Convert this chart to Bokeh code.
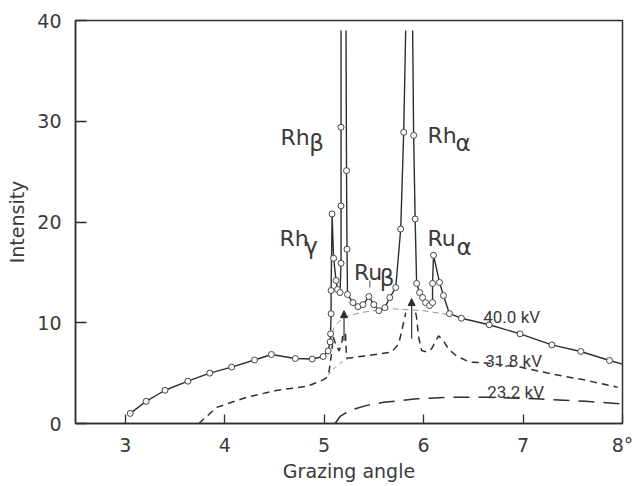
from bokeh.plotting import figure
from bokeh.models import FixedTicker, Arrow, NormalHead, Label
from bokeh.embed import file_html
from bokeh.resources import INLINE

NaN = float("nan")

# ---- 40.0 kV (solid, measured points) ----
x40_a = [3.05, 3.21, 3.40, 3.63, 3.85, 4.07, 4.30, 4.47, 4.71, 4.88, 4.99, 5.04, 5.06, 5.065,
         5.07, 5.07, 5.08, 5.095, 5.12, 5.135, 5.16, 5.17, 5.17, 5.17, 5.17]
y40_a = [1.0, 2.2, 3.3, 4.2, 5.0, 5.6, 6.3, 6.85, 6.45, 6.4, 6.65, 7.2, 8.1, 8.9,
         10.9, 13.2, 20.8, 16.4, 14.2, 13.3, 13.0, 15.9, 21.6, 29.4, 39.0]
x40_b = [5.22, 5.225, 5.23, 5.235, 5.29, 5.34, 5.39, 5.45, 5.50, 5.55, 5.61, 5.66, 5.72,
         5.77, 5.80, 5.82]
y40_b = [39.0, 25.1, 17.3, 12.8, 12.0, 11.6, 11.8, 12.6, 11.8, 11.2, 11.5, 12.5, 13.5,
         19.3, 28.9, 39.0]
x40_c = [5.89, 5.90, 5.915, 5.93, 5.96, 5.99, 6.02, 6.06, 6.09, 6.09, 6.10, 6.16, 6.20,
         6.26, 6.38, 6.66, 6.97, 7.29, 7.58, 7.87, 8.0]
y40_c = [39.0, 28.6, 20.3, 13.9, 13.0, 12.5, 12.0, 11.7, 12.0, 13.9, 16.7, 14.0, 12.7,
         10.9, 10.45, 9.8, 8.9, 7.8, 7.15, 6.25, 5.9]

# background under the 40 kV peaks (thin dashed)
bg40_x = [5.06, 5.10, 5.19, 5.36, 5.66, 5.99, 6.26]
bg40_y = [8.0, 9.6, 10.5, 11.0, 11.4, 11.2, 10.8]

# ---- 31.8 kV (short dashes) ----
x31_a = [3.74, 3.92, 4.22, 4.53, 4.83, 4.96, 5.02, 5.05, 5.075, 5.09, 5.12, 5.15, 5.18, 5.19]
y31_a = [0.0, 1.6, 2.6, 3.3, 3.7, 4.2, 4.5, 5.2, 7.0, 8.6, 7.8, 7.2, 8.2, 8.9]
x31_b = [5.215, 5.225, 5.26, 5.40, 5.55, 5.68, 5.75, 5.81, 5.82]
y31_b = [8.9, 6.5, 6.5, 6.7, 6.9, 7.1, 7.9, 10.5, 11.0]
x31_c = [5.92, 5.93, 5.95, 5.98, 6.03, 6.08, 6.15, 6.20, 6.25, 6.33, 6.46, 6.63, 6.97,
         7.30, 7.63, 7.95]
y31_c = [11.0, 10.5, 8.6, 7.25, 7.1, 7.4, 8.7, 8.2, 7.4, 6.7, 6.1, 6.0, 5.6, 4.9, 4.3, 3.6]
bg31_x = [5.04, 5.10, 5.18, 5.24]
bg31_y = [4.8, 5.5, 6.1, 6.4]

# off-scale peak arrows (31.8 kV)
arrow_x = [5.20, 5.88]
arrow_y0 = [8.2, 8.4]
arrow_y1 = [11.2, 12.4]

# ---- 23.2 kV (long dashes) ----
x23 = [5.11, 5.16, 5.26, 5.43, 5.60, 5.93, 6.26, 6.63, 7.13, 7.63, 7.99]
y23 = [0.0, 0.7, 1.3, 1.8, 2.1, 2.45, 2.6, 2.6, 2.45, 2.2, 1.95]

x_ticks = [3, 4, 5, 6, 7, 8]
y_ticks = [0, 10, 20, 30, 40]

INK = "#2e2e2e"
TXT = "#3a3a3a"
FONT = "DejaVu Sans"

p = figure(width=636, height=486, x_range=(2.5, 8.0), y_range=(0, 40),
           output_backend="svg", toolbar_location=None,
           min_border_left=75, min_border_right=14, min_border_top=20, min_border_bottom=63)
p.grid.visible = False
p.background_fill_color = "white"
p.border_fill_color = "white"
p.outline_line_color = INK
p.outline_line_width = 1.5

for ax in (p.xaxis[0], p.yaxis[0]):
    ax.axis_line_color = INK
    ax.axis_line_width = 1.5
    ax.major_tick_line_color = INK
    ax.major_tick_line_width = 1.3
    ax.major_tick_out = 0
    ax.minor_tick_line_color = None
    ax.major_label_text_font = FONT
    ax.major_label_text_font_size = "19px"
    ax.major_label_text_color = TXT
    ax.axis_label_text_font = FONT
    ax.axis_label_text_font_style = "normal"
    ax.axis_label_text_color = TXT

p.xaxis.ticker = FixedTicker(ticks=x_ticks)
p.xaxis.major_label_overrides = {8: "8°"}
p.xaxis.major_tick_in = 9
p.xaxis.major_label_standoff = 10
p.xaxis.axis_label = "Grazing angle"
p.xaxis.axis_label_text_font_size = "19px"
p.xaxis.axis_label_standoff = 1

p.yaxis.ticker = FixedTicker(ticks=y_ticks)
p.yaxis.major_tick_in = 11
p.yaxis.major_label_standoff = 14
p.yaxis.axis_label = "Intensity"
p.yaxis.axis_label_text_font_size = "19px"
p.yaxis.axis_label_standoff = 6

# 23.2 kV
p.line(x23, y23, line_color=INK, line_width=1.5, line_dash="16 9")

# 31.8 kV
x31 = x31_a + [NaN] + x31_b + [NaN] + x31_c
y31 = y31_a + [NaN] + y31_b + [NaN] + y31_c
p.line(x31, y31, line_color=INK, line_width=1.5, line_dash="7 5")
p.line(bg31_x, bg31_y, line_color="#777777", line_width=0.8, line_dash="4 4")
for xa, ya0, ya1 in zip(arrow_x, arrow_y0, arrow_y1):
    p.add_layout(Arrow(end=NormalHead(size=7, fill_color=INK, line_color=INK, line_width=1),
                       x_start=xa, y_start=ya0, x_end=xa, y_end=ya1,
                       line_color=INK, line_width=1.2))

# 40 kV background
p.line(bg40_x, bg40_y, line_color="#777777", line_width=0.8, line_dash="6 4")

# 40 kV
x40 = x40_a + [NaN] + x40_b + [NaN] + x40_c
y40 = y40_a + [NaN] + y40_b + [NaN] + y40_c
p.line(x40, y40, line_color=INK, line_width=1.4)
mx = [x for x, y in zip(x40, y40) if y == y and y < 38.5 and x < 7.99]
my = [y for x, y in zip(x40, y40) if y == y and y < 38.5 and x < 7.99]
p.scatter(mx, my, marker="circle", size=6, fill_color="white", line_color="#444444",
          line_width=1)

# Ru beta tick mark
p.segment(x0=[5.46], y0=[13.5], x1=[5.46], y1=[14.2], line_color="#555555", line_width=1)

# labels
main_labels = [("Rh", 4.56, 28.4), ("Rh", 6.04, 28.6), ("Ru", 6.04, 18.4),
               ("Ru", 5.30, 15.0), ("Rh", 4.55, 18.4)]
sub_labels = [("β", 4.85, 27.8), ("α", 6.32, 27.8), ("α", 6.33, 17.5),
              ("β", 5.56, 14.4), ("γ", 4.80, 17.6)]
for t, x, y in main_labels:
    p.add_layout(Label(x=x, y=y, text=t, text_font=FONT, text_font_size="22px",
                       text_color=TXT, text_baseline="alphabetic", text_align="left"))
for t, x, y in sub_labels:
    p.add_layout(Label(x=x, y=y, text=t, text_font=FONT, text_font_size="23px",
                       text_color=TXT, text_baseline="alphabetic", text_align="left"))

kv_labels = [("40.0 kV", 6.60, 10.6), ("31.8 kV", 6.62, 6.25), ("23.2 kV", 6.64, 3.1)]
for t, x, y in kv_labels:
    p.add_layout(Label(x=x, y=y, text=t, text_font="Roboto", text_font_size="17px",
                       text_color=TXT, text_baseline="alphabetic", text_align="left"))

open("out.html", "w").write(file_html(p, INLINE))
